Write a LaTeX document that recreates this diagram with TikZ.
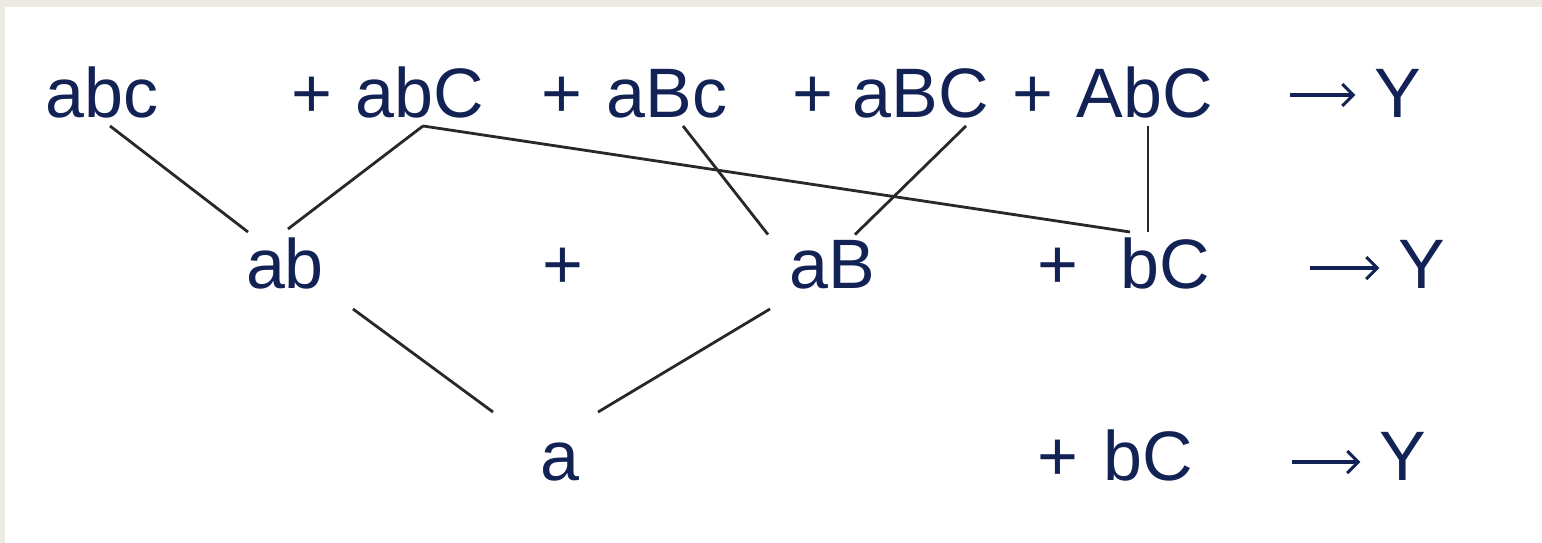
\documentclass[tikz,border=0pt]{standalone}
\usepackage{fontspec}
\setmainfont{Liberation Sans}
\usetikzlibrary{arrows.meta}
\definecolor{ink}{RGB}{18,34,84}
\definecolor{wire}{RGB}{40,40,40}
\definecolor{frame}{RGB}{237,234,227}

\begin{document}
\begin{tikzpicture}[
    x=1pt,
    y=-1pt,
    semithick
]

\tikzstyle{term}=[
    text=ink,
    font=\fontsize{70}{84}\selectfont,
    anchor=base,
    inner sep=8pt
]
\tikzstyle{link}=[draw=wire, line width=2.8pt]
\tikzstyle{yields}=[
    draw=ink,
    line width=3.4pt,
    -{Straight Barb[length=11pt,width=22pt,line width=3pt]},
    shorten >=11pt
]

% page and frame
\useasboundingbox (0,0) rectangle (1542,543);
\fill[frame] (0,0) rectangle (1542,543);
\fill[white] (5,7) rectangle (1542,543);

% first row
\node[term] (abc) at (102,117) {abc};
\node[term] (p1) at (312,117) {+};
\node[term] (abC) at (420,117) {abC};
\node[term] (p2) at (562,117) {+};
\node[term] (aBc) at (667,117) {aBc};
\node[term] (p3) at (813,117) {+};
\node[term] (aBC) at (921,117) {aBC};
\node[term] (p4) at (1033,117) {+};
\node[term] (AbC) at (1145,117) {AbC};
\node[term] (Y1) at (1398,117) {Y};
\coordinate (r1) at (1290,95);

% second row
\node[term] (ab) at (285,288) {ab};
\node[term] (p5) at (563,288) {+};
\node[term] (aB) at (832,288) {aB};
\node[term] (p6) at (1058,288) {+};
\node[term] (bC) at (1165,288) {bC};
\node[term] (Y2) at (1422,288) {Y};
\coordinate (r2) at (1310,268);

% third row
\node[term] (a) at (560,480) {a};
\node[term] (p7) at (1058,480) {+};
\node[term] (bC3) at (1148,480) {bC};
\node[term] (Y3) at (1403,480) {Y};
\coordinate (r3) at (1292,462);

% merges
\draw[link] ([xshift=8pt]abc.south) -- ([xshift=-37pt,yshift=-3pt]ab.north);
\draw[link] ([xshift=3pt]abC.south) -- ([xshift=3pt]ab.north);
\draw[link] ([xshift=3pt]abC.south) -- ([xshift=-35pt,yshift=-3pt]bC.north);
\draw[link] ([xshift=16pt]aBc.south) -- ([xshift=-64pt,yshift=-3pt]aB.north);
\draw[link] ([xshift=45pt]aBC.south) -- ([xshift=23pt,yshift=-3pt]aB.north);
\draw[link] ([xshift=3pt]AbC.south) -- ([xshift=3pt,yshift=-3pt]AbC.south |- bC.north);
\draw[link] ([xshift=68pt,yshift=-12pt]ab.south) -- ([xshift=-67pt,yshift=22pt]a.north);
\draw[link] ([xshift=-62pt,yshift=-12pt]aB.south) -- ([xshift=38pt,yshift=22pt]a.north);

% results
\draw[yields] (r1) -- (Y1.west |- r1);
\draw[yields] (r2) -- (Y2.west |- r2);
\draw[yields] (r3) -- (Y3.west |- r3);

\end{tikzpicture}
\end{document}
